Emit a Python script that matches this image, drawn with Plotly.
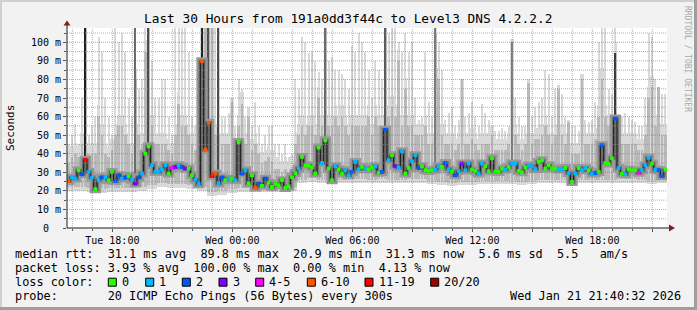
import numpy as np
import pandas as pd
import plotly.graph_objects as go

# ---------------- data ----------------
START = "2026-01-20 15:44"
END = "2026-01-21 21:44"
STEP_MIN = 10

median_ms = [
    25.3, 27.2, 26.6, 31.1, 28.9, 36.8, 30.2, 27.2, 20.9, 25.7,
    27.2, 27.5, 25.7, 30.2, 25.3, 28.4, 26.6, 27.2, 27.9, 26.0,
    23.9, 27.2, 29.3, 40.0, 44.0, 33.8, 30.2, 30.2, 31.6, 33.8,
    29.3, 32.3, 32.9, 33.8, 32.9, 32.0,
    32.0, 28.4, 26.1, 23.6, 89.8, 42.2, 56.7, 27.9, 29.3, 23.9,
    27.2, 25.7, 26.6, 26.6, 25.7, 46.3, 29.3, 31.1, 23.9, 28.4,
    21.8, 23.9, 22.7, 26.6, 24.4, 22.1, 23.7, 23.0, 25.7, 21.6,
    22.4, 27.4, 29.6, 32.0, 38.3, 33.8,
    33.5, 32.5, 29.3, 43.3, 35.0, 47.2, 32.0, 25.7, 33.2, 31.6,
    29.3, 31.1, 28.4, 30.2, 35.6, 31.6, 32.9, 32.0, 31.6, 32.5,
    33.2, 29.8, 30.2, 52.9, 36.5, 39.2, 33.2, 32.5, 41.3, 29.3,
    32.3, 35.9, 39.2, 32.3, 33.2, 31.1,
    30.7, 31.1, 31.5, 33.2, 32.9, 35.0, 31.6, 30.2, 28.4, 30.7,
    34.7, 31.1, 34.7, 31.5, 30.7, 29.3, 34.7, 33.2, 30.5, 37.5,
    30.4, 30.2, 32.0, 31.5, 32.9, 34.7, 34.7, 30.7, 30.0, 32.5,
    33.6, 33.2, 31.8, 35.6, 36.5, 32.0,
    33.8, 32.0, 32.0, 31.5, 31.5, 32.3, 29.6, 24.8, 29.3, 32.3,
    31.1, 32.3, 31.1, 29.3, 29.6, 30.2, 44.5, 35.0, 34.7, 37.5,
    58.9, 32.3, 29.3, 28.9, 31.5, 31.1, 31.1, 29.8, 31.1, 33.8,
    37.8, 34.7, 31.5, 31.1, 27.9, 31.3,
]

# loss class per step: 0="0", 1="1", 2="2", 3="3", 4="4-5", 5="6-10", 6="11-19", 7="20/20"
loss_class = [
    5, 1, 1, 0, 2, 6, 1, 1, 0, 1,
    2, 1, 0, 0, 2, 2, 1, 2, 0, 1,
    3, 2, 1, 0, 0, 1, 1, 1, 1, 1,
    0, 4, 3, 1, 2, 3,
    0, 0, 1, 1, 5, 5, 5, 6, 5, 1,
    2, 0, 1, 0, 1, 0, 2, 1, 0, 0,
    5, 2, 0, 2, 0, 0, 0, 0, 0, 0,
    0, 0, 0, 1, 0, 0,
    0, 0, 0, 0, 1, 0, 0, 0, 1, 0,
    0, 1, 1, 2, 1, 1, 0, 1, 0, 0,
    1, 0, 2, 2, 1, 0, 3, 1, 1, 0,
    0, 1, 1, 2, 0, 0,
    0, 0, 1, 1, 0, 2, 1, 0, 2, 1,
    3, 1, 1, 0, 0, 1, 1, 0, 0, 0,
    0, 0, 0, 1, 0, 1, 1, 0, 0, 0,
    1, 1, 1, 0, 0, 0,
    0, 0, 0, 1, 1, 0, 1, 0, 1, 0,
    1, 1, 0, 1, 2, 0, 2, 0, 0, 0,
    2, 1, 0, 1, 0, 0, 0, 4, 1, 1,
    1, 0, 1, 2, 2, 0,
]

# top of the light smoke (max ping), ms
smoke_max = [
    45, 50, 56, 45, 70, 110, 50, 55, 60, 103,
    95, 70, 60, 50, 108, 100, 105, 95, 70, 60,
    110, 75, 80, 110, 110, 90, 70, 70, 80, 80,
    60, 50, 110, 110, 110, 110,
    95, 60, 55, 50, 110, 110, 110, 110, 110, 110,
    60, 60, 62, 70, 55, 80, 75, 60, 65, 55,
    68, 55, 45, 50, 55, 55, 45, 45, 40, 45,
    38, 40, 80, 75, 103, 100,
    94, 95, 90, 84, 80, 110, 90, 92, 85, 85,
    83, 80, 75, 98, 95, 105, 100, 95, 85, 70,
    90, 85, 80, 110, 105, 108, 110, 100, 95, 105,
    95, 100, 70, 58, 60, 95,
    68, 60, 110, 100, 85, 58, 62, 65, 55, 58,
    80, 60, 62, 68, 60, 55, 67, 62, 58, 55,
    52, 52, 54, 52, 55, 102, 70, 60, 55, 55,
    80, 60, 65, 68, 70, 85,
    83, 60, 75, 77, 72, 60, 58, 55, 55, 52,
    83, 58, 57, 58, 68, 100, 110, 108, 75, 72,
    110, 60, 60, 62, 60, 58, 57, 55, 55, 70,
    105, 103, 80, 76, 72, 72,
]

# top of the medium-grey smoke, ms
smoke_mid = [
    35, 38, 40, 38, 45, 110, 40, 40, 40, 60,
    50, 40, 38, 42, 50, 55, 55, 50, 45, 40,
    80, 50, 45, 95, 110, 55, 45, 45, 45, 45,
    42, 40, 50, 67, 55, 55,
    50, 45, 42, 40, 110, 110, 110, 110, 50, 50,
    45, 45, 45, 68, 42, 55, 67, 45, 60, 42,
    45, 40, 35, 36, 38, 36, 32, 32, 30, 32,
    30, 33, 45, 50, 55, 50,
    55, 55, 50, 70, 55, 110, 55, 55, 60, 55,
    60, 55, 50, 55, 55, 55, 55, 55, 60, 50,
    60, 55, 55, 110, 60, 65, 60, 90, 55, 75,
    55, 55, 50, 50, 50, 55,
    45, 45, 105, 80, 50, 45, 45, 45, 42, 45,
    80, 45, 45, 48, 45, 42, 45, 45, 45, 50,
    42, 42, 42, 42, 45, 100, 50, 45, 42, 45,
    78, 45, 48, 48, 50, 55,
    50, 45, 50, 75, 50, 45, 57, 40, 40, 40,
    80, 45, 45, 45, 48, 60, 80, 60, 55, 55,
    94, 48, 45, 45, 45, 45, 45, 42, 42, 50,
    70, 76, 55, 76, 50, 50,
]

# bottom of the smoke (min ping), one value per 30 minutes
smoke_min_30min = [
    20, 20, 19.5, 19, 19.5, 19.5, 19.5, 20, 21, 22, 21.5, 21.5,
    21, 20, 17.5, 18, 19, 19.5, 19.5, 19.5, 19.5, 19.5, 20, 24,
    25, 24, 24.5, 24, 24.5, 24.5, 24, 24.5, 24, 24, 24.5, 24.5,
    23.5, 23, 22.5, 23, 23, 23.5, 23.5, 23.5, 23.5, 23, 23.5, 24,
    24, 24, 23.5, 24, 24, 24, 24, 24.5, 24.5, 24, 23.5, 24,
]

# dark spikes: step index -> top in ms, and their grey level
dark_spike_idx = [5, 20, 24, 40, 42, 45, 77, 95, 110, 133, 164]
dark_spike_top = [110, 108, 110, 110, 110, 110, 110, 110, 110, 100, 94]
dark_spike_col = ["#202020", "#6a6a6a", "#4a4a4a", "#202020", "#505050", "#4a4a4a",
                  "#6a6a6a", "#5a5a5a", "#7a7a7a", "#7a7a7a", "#3a3a3a"]

loss_labels = ["0", "1", "2", "3", "4-5", "6-10", "11-19", "20/20"]
loss_colors = ["#26ff00", "#00b8ff", "#0059ff", "#7e00ff",
               "#ff00fe", "#ff5500", "#ff0000", "#a10000"]

y_tickvals = [0, 10, 20, 30, 40, 50, 60, 70, 80, 90, 100]
y_ticktext = ["0\u00a0\u00a0", "10 m", "20 m", "30 m", "40 m", "50 m",
              "60 m", "70 m", "80 m", "90 m", "100 m"]
y_minorvals = [5, 15, 25, 35, 45, 55, 65, 75, 85, 95, 105]

x_tickvals = ["2026-01-20 18:00", "2026-01-20 21:00", "2026-01-21 00:00",
              "2026-01-21 03:00", "2026-01-21 06:00", "2026-01-21 09:00",
              "2026-01-21 12:00", "2026-01-21 15:00", "2026-01-21 18:00",
              "2026-01-21 21:00"]
x_ticktext = ["Tue 18:00", "", "Wed 00:00", "", "Wed 06:00", "",
              "Wed 12:00", "", "Wed 18:00", ""]
x_minorvals = [s for s in pd.date_range("2026-01-20 16:00", "2026-01-21 21:00", freq="1h").strftime("%Y-%m-%d %H:%M")
               if s not in x_tickvals]

title_text = "Last 30 Hours from 191a0dd3f44c to Level3 DNS 4.2.2.2"
row_rtt = "median rtt:  31.1 ms avg  89.8 ms max  20.9 ms min  31.3 ms now  5.6 ms sd  5.5   am/s"
row_loss = "packet loss: 3.93 % avg  100.00 % max  0.00 % min  4.13 % now"
row_color = "loss color:"
row_probe = "probe:       20 ICMP Echo Pings (56 Bytes) every 300s"
row_date = "Wed Jan 21 21:40:32 2026"

# ---------------- figure ----------------
FONT = "DejaVu Sans Mono"
W, H = 697, 310
PL, PR, PT, PB = 67, 667, 28, 228      # plot area in pixels
Y_TOP = 107.7


def px(xp):
    return (xp - PL) / (PR - PL)


def py(yp):
    return (PB - yp) / (PB - PT)


def nb(s):
    return s.replace(" ", "\u00a0")


n = len(median_ms)
t = pd.Timestamp(START) + pd.to_timedelta(np.arange(n) * STEP_MIN + STEP_MIN / 2, unit="min")
med = np.array(median_ms, dtype=float)
hi = np.array(smoke_max, dtype=float)
mid = np.minimum(np.array(smoke_mid, dtype=float), hi)
lo = np.repeat(np.array(smoke_min_30min, dtype=float), 30 // STEP_MIN)[:n]
lo_mid = lo + 2.0
step_ms = STEP_MIN * 60 * 1000
body_top = np.minimum(hi, mid + 6)

fig = go.Figure()
# light smoke: narrow spikes up to max, continuous body near the median
fig.add_bar(x=t, y=hi - lo, base=lo, width=step_ms * 0.62,
            marker=dict(color="#d9d9d9", line_width=0), hoverinfo="skip")
fig.add_bar(x=t, y=body_top - lo, base=lo, width=step_ms,
            marker=dict(color="#d9d9d9", line_width=0), hoverinfo="skip")
# medium smoke
fig.add_bar(x=t, y=mid - lo_mid, base=lo_mid, width=step_ms * 0.8,
            marker=dict(color="#b9b9b9", line_width=0), hoverinfo="skip")
# dense core around the median
fig.add_scatter(x=t, y=med, mode="lines", line=dict(color="#9a9a9a", width=8, shape="hvh"),
                hoverinfo="skip")
fig.add_scatter(x=t, y=med, mode="lines", line=dict(color="#6a6a6a", width=3.5, shape="hvh"),
                hoverinfo="skip")
di = np.array(dark_spike_idx)
dt = np.array(dark_spike_top, dtype=float)
fig.add_bar(x=t[di], y=dt - med[di], base=med[di], width=step_ms * 0.45,
            marker=dict(color=dark_spike_col, line_width=0), hoverinfo="skip")
fig.add_scatter(x=t, y=med, mode="lines+markers",
                line=dict(color="#151515", width=1, shape="hvh"),
                marker=dict(symbol="square", size=3.8, line_width=0,
                            color=[loss_colors[k] for k in loss_class]),
                hoverinfo="skip")

shapes = []
grid_dash = "1px,1px"
minor_col = "rgba(143,143,143,0.7)"
major_col = "rgba(222,79,79,0.6)"
for v in y_minorvals:
    shapes.append(dict(type="line", xref="paper", yref="y", x0=0, x1=1, y0=v, y1=v,
                       line=dict(color=minor_col, width=1, dash=grid_dash), layer="above"))
for v in x_minorvals:
    shapes.append(dict(type="line", xref="x", yref="paper", x0=v, x1=v, y0=0, y1=1,
                       line=dict(color=minor_col, width=1, dash=grid_dash), layer="above"))
for v in y_tickvals[1:]:
    shapes.append(dict(type="line", xref="paper", yref="y", x0=0, x1=1, y0=v, y1=v,
                       line=dict(color=major_col, width=1, dash=grid_dash), layer="above"))
for v in x_tickvals:
    shapes.append(dict(type="line", xref="x", yref="paper", x0=v, x1=v, y0=0, y1=1,
                       line=dict(color=major_col, width=1, dash=grid_dash), layer="above"))

arrow = "#801f1f"
shapes.append(dict(type="line", xref="paper", yref="paper", x0=px(PL), x1=px(PL), y0=py(PB), y1=py(24),
                   line=dict(color="#1f1f1f", width=1), layer="above"))
shapes.append(dict(type="line", xref="paper", yref="paper", x0=px(PL), x1=px(671), y0=py(PB), y1=py(PB),
                   line=dict(color="#1f1f1f", width=1), layer="above"))
shapes.append(dict(type="path", xref="paper", yref="paper",
                   path=f"M {px(63.5)} {py(25.5)} L {px(70.5)} {py(25.5)} L {px(67)} {py(20.5)} Z",
                   fillcolor=arrow, line=dict(width=0), layer="above"))
shapes.append(dict(type="path", xref="paper", yref="paper",
                   path=f"M {px(669)} {py(224.5)} L {px(669)} {py(231.5)} L {px(675)} {py(228)} Z",
                   fillcolor=arrow, line=dict(width=0), layer="above"))

shapes += [
    dict(type="rect", xref="paper", yref="paper", x0=px(0), x1=px(W), y0=py(0), y1=py(2),
         fillcolor="#cfcfcf", line_width=0, layer="below"),
    dict(type="rect", xref="paper", yref="paper", x0=px(0), x1=px(2), y0=py(0), y1=py(H),
         fillcolor="#cfcfcf", line_width=0, layer="below"),
    dict(type="rect", xref="paper", yref="paper", x0=px(0), x1=px(W), y0=py(H - 3), y1=py(H),
         fillcolor="#9e9e9e", line_width=0, layer="below"),
    dict(type="rect", xref="paper", yref="paper", x0=px(W - 3), x1=px(W), y0=py(0), y1=py(H),
         fillcolor="#9e9e9e", line_width=0, layer="below"),
]

box_left = [108.3, 145.7, 182.3, 219.0, 255.7, 307.3, 365.0, 430.7]
label_left = [122.0, 158.5, 195.5, 232.5, 269.0, 320.5, 378.5, 444.0]
for xl, c in zip(box_left, loss_colors):
    shapes.append(dict(type="rect", xref="paper", yref="paper", x0=px(xl), x1=px(xl + 8),
                       y0=py(278.2), y1=py(286.2), fillcolor=c,
                       line=dict(color="#000000", width=1), layer="above"))

ann = []


def text(s, x, y, size, anchor="left", color="#000000", angle=0, yanchor="middle"):
    ann.append(dict(text=nb(s), x=px(x), y=py(y), xref="paper", yref="paper", showarrow=False,
                    xanchor=anchor, yanchor=yanchor, textangle=angle, borderpad=0, borderwidth=0,
                    font=dict(family=FONT, size=size, color=color)))


text(title_text, 347.5, 18.5, 12.8, anchor="center")
text(row_rtt, 14.5, 254, 11.85)
text(row_loss, 14.5, 268, 11.85)
text(row_color, 14.5, 282, 11.85)
for xl, lab in zip(label_left, loss_labels):
    text(lab, xl, 282, 11.85)
text(row_probe, 14.5, 296, 11.85)
text(row_date, 681, 296, 11.85, anchor="right")
text("Seconds", 10, 128, 11, anchor="center", angle=-90)
text("RRDTOOL / TOBI OETIKER", 688, 59, 8, anchor="center", color="#a8a8a8", angle=90)

fig.update_layout(
    width=W, height=H,
    margin=dict(l=PL, r=W - PR, t=PT, b=H - PB, pad=0),
    paper_bgcolor="#f2f2f2", plot_bgcolor="#ffffff",
    barmode="overlay", bargap=0, showlegend=False, hovermode=False,
    shapes=shapes, annotations=ann,
    xaxis=dict(type="date", range=[START, END], tickmode="array",
               tickvals=x_tickvals, ticktext=x_ticktext,
               tickfont=dict(family=FONT, size=10, color="#000000"),
               showgrid=False, zeroline=False, showline=False,
               ticks="outside", ticklen=3, tickcolor="#555555",
               minor=dict(tickmode="array", tickvals=x_minorvals, ticks="outside",
                          ticklen=2, tickcolor="#555555", showgrid=False),
               fixedrange=True),
    yaxis=dict(range=[0, Y_TOP], tickmode="array", tickvals=y_tickvals, ticktext=y_ticktext,
               tickfont=dict(family=FONT, size=10, color="#000000"),
               showgrid=False, zeroline=False, showline=False,
               ticks="outside", ticklen=3, tickcolor="#555555",
               minor=dict(tickmode="array", tickvals=y_minorvals, ticks="outside",
                          ticklen=2, tickcolor="#555555", showgrid=False),
               fixedrange=True),
)

fig.write_html("out.html")
